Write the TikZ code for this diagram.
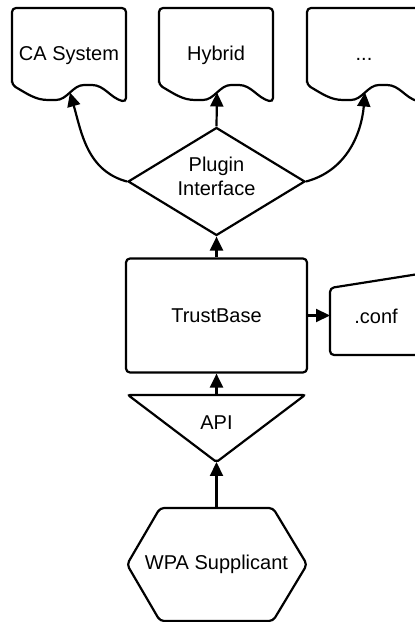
\documentclass[tikz,border=0pt]{standalone}
\usepackage{fontspec}
\setmainfont{Liberation Sans}
\usetikzlibrary{arrows.meta, calc, positioning, shapes.geometric}

% sheet with a wavy lower edge, left side at #1, arrow point named #2
\newcommand{\docshape}[2]{%
    \draw[outline] (#1, 537) -- (#1, 614) -- (#1+114, 614) -- (#1+114, 520)
        to[out=165, in=0] (#1+76, 537)
        to[out=180, in=0] coordinate[pos=0.5] (#2) (#1+40, 522)
        to[out=180, in=-30] cycle;}

\begin{document}
\begin{tikzpicture}[x=0.5pt, y=0.5pt,
        outline/.style={draw, line width=1.1pt, rounded corners=2pt},
        link/.style={line width=1.1pt, -{Triangle[length=7pt, width=6.5pt]}},
        lbl/.style={font=\normalsize, inner sep=1pt}]
    \useasboundingbox (0, 0) rectangle (414, 622);

    \docshape{12}{CAin}
    \docshape{159}{Hybin}
    \docshape{307}{Morein}
    \node[lbl, anchor=base] (CA) at (69, 561) {CA System};
    \node[lbl, anchor=base] (Hyb) at (216, 561) {Hybrid};
    \node[lbl, anchor=base] (More) at (364, 561) {...};

    \node[outline, diamond, rounded corners=0pt, minimum width=88.5pt, minimum height=54pt,
          inner sep=0pt, aspect=1.64] (Plug) at (216.5, 440.5) {};
    \node[lbl, align=center] (PlugTxt) at (216.5, 446) {Plugin\\Interface};

    \node[outline, minimum width=90.5pt, minimum height=57pt, font=\normalsize] (TB) at (216.5, 306.5) {TrustBase};

    \draw[outline] (444, 352) -- (330, 334) -- (330, 267) -- (444, 267);
    \coordinate (ConfIn) at (330, 306.5);
    \node[lbl] (Conf) at (376, 305.5) {.conf};

    \draw[outline, rounded corners=1pt] (128, 227) -- (305, 227) -- (216.5, 160) -- cycle;
    \coordinate (ApiTop) at (216.5, 227);
    \coordinate (ApiTip) at (216.5, 160);
    \node[lbl] (Api) at (216.5, 199.5) {API};

    \draw[outline] (160, 114) -- (273, 114) -- (307, 57.5) -- (273, 1) -- (160, 1) -- (127, 57.5) -- cycle;
    \coordinate (WPAtop) at (216.5, 114);
    \node[lbl] (WPA) at (216.5, 58) {WPA Supplicant};

    \draw[link] (WPAtop) -- (ApiTip);
    \draw[link] (ApiTop) -- (TB.south);
    \draw[link] (TB.east) -- (ConfIn);
    \draw[link] (TB.north) -- (Plug.south);
    \draw[link] (Plug.north) -- (Hybin);
    \draw[link] (Plug.west) to[out=165, in=-74] (CAin);
    \draw[link] (Plug.east) to[out=15, in=-95] (Morein);
\end{tikzpicture}
\end{document}
